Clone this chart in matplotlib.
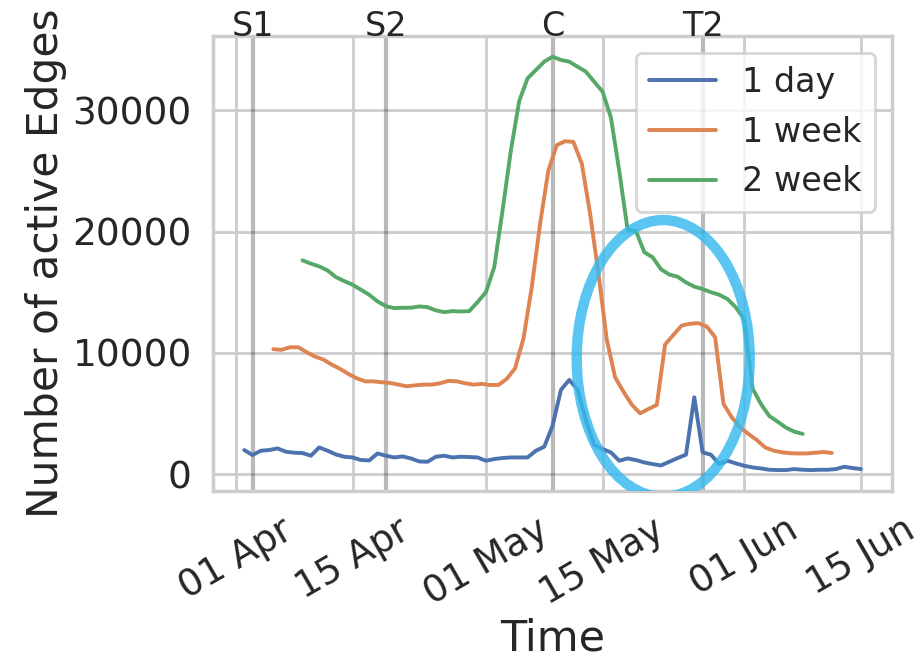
import numpy as np
import pandas as pd
import matplotlib
matplotlib.use("Agg")
import matplotlib.pyplot as plt
import matplotlib.dates as mdates
from matplotlib.patches import Ellipse
import seaborn as sns

# daily counts of active edges, aggregated over different windows
day_vals = [1983, 1570, 1926, 1983, 2116, 1843, 1760, 1736, 1512, 2198,
            1926, 1620, 1430, 1372, 1157, 1124, 1702, 1512, 1372, 1455,
            1289, 1041, 1017, 1430, 1512, 1372, 1430, 1405, 1372, 1099,
            1240, 1322, 1372, 1372, 1372, 1926, 2256, 3992, 6942, 7769,
            6967, 4405, 2397, 2066, 1785, 1099, 1289, 1157, 959, 826,
            711, 1017, 1322, 1595, 6331, 1793, 1595, 826, 1099, 876,
            686, 545, 463, 355, 331, 331, 413, 355, 331, 355,
            355, 413, 603, 496, 413]
week_vals = [10300, 10250, 10460, 10460, 10050, 9690, 9450, 9030, 8680, 8260,
             7900, 7650, 7650, 7570, 7520, 7380, 7240, 7320, 7380, 7380,
             7490, 7690, 7650, 7490, 7380, 7440, 7350, 7350, 7850, 8730,
             11160, 15420, 20660, 25070, 27130, 27460, 27400, 25620, 21490, 16530,
             11100, 7980, 6800, 5730, 5010, 5370, 5700, 10690, 11490, 12260,
             12400, 12450, 12170, 11290, 5790, 4680, 3850, 3310, 2810, 2200,
             1930, 1800, 1720, 1700, 1700, 1760, 1820, 1740]
twoweek_vals = [17630, 17360, 17130, 16800, 16250, 15920, 15620, 15210, 14790, 14240,
                13850, 13690, 13720, 13720, 13830, 13770, 13500, 13360, 13440, 13410,
                13440, 14180, 15010, 17070, 21760, 26720, 30780, 32650, 33330, 34020,
                34430, 34160, 34020, 33600, 33190, 32360, 31550, 29400, 25000, 20150,
                20050, 18310, 17880, 16900, 16460, 16280, 15810, 15460, 15270, 15000,
                14790, 14430, 13740, 12750, 7050, 5770, 4790, 4320, 3830, 3500, 3310]

day_dates = pd.date_range("2019-04-02", periods=len(day_vals), freq="D")
week_dates = pd.date_range("2019-04-05 12:00", periods=len(week_vals), freq="D")
twoweek_dates = pd.date_range("2019-04-09", periods=len(twoweek_vals), freq="D")

events = ["S1", "S2", "C", "T2"]
event_dates = pd.to_datetime(["2019-04-03", "2019-04-19", "2019-05-09", "2019-05-27"])

sns.set_theme(context="poster", style="whitegrid", font_scale=1.2)
plt.rcParams['font.family'] = ['DejaVu Sans']

fig, ax = plt.subplots(figsize=(9.18, 6.55), dpi=100)
fig.subplots_adjust(left=0.2324, right=0.9715, top=0.945, bottom=0.2508)

ax.plot(day_dates, day_vals, lw=2.8, label="1 day")
ax.plot(week_dates, week_vals, lw=2.8, label="1 week")
ax.plot(twoweek_dates, twoweek_vals, lw=2.8, label="2 week")

for name, d in zip(events, event_dates):
    ax.axvline(d, color="k", alpha=0.3, lw=3, zorder=1)
    ax.text(d, 1.0, name, transform=ax.get_xaxis_transform(), ha="center",
            va="baseline", fontsize=24, color="#262626")

# highlight the second wave
ax.add_patch(Ellipse((0.663, 0.291), 0.255, 0.6085, transform=ax.transAxes,
                     fill=False, edgecolor="#36B9EE", alpha=0.82, lw=7.5, zorder=5))

ax.xaxis.set_major_locator(mdates.DayLocator(bymonthday=[1, 15]))
ax.xaxis.set_major_formatter(mdates.DateFormatter("%d %b"))
plt.setp(ax.get_xticklabels(), rotation=30, ha="center")
ax.tick_params(labelsize=27)

ax.set_xlabel("Time", fontsize=31)
ax.set_ylabel("Number of active Edges", fontsize=30.5)
ax.legend(loc="upper right", fontsize=24)

fig.savefig("out.png", dpi=100)
